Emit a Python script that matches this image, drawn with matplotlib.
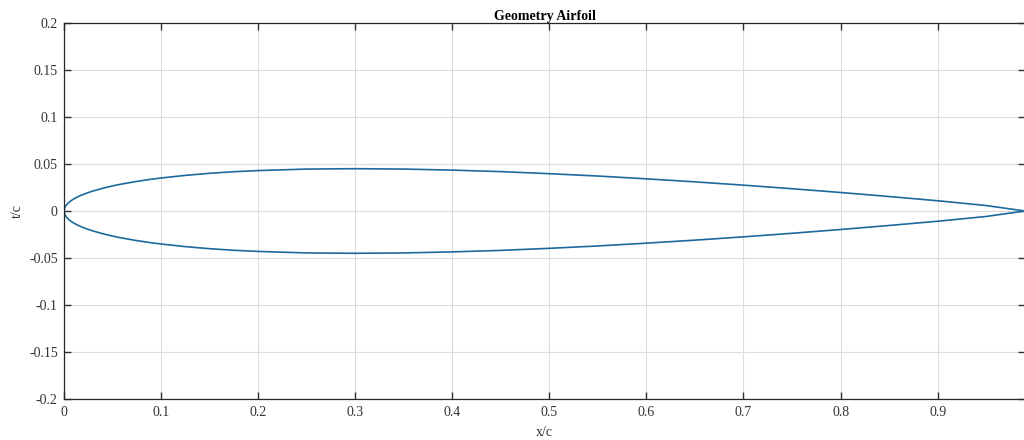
import numpy as np
import matplotlib
matplotlib.use('Agg')
import matplotlib.pyplot as plt

# airfoil half thickness (symmetric section)
x_c = [0.0, 0.001, 0.0025, 0.005, 0.0075, 0.01, 0.0125, 0.015, 0.02, 0.025,
       0.03, 0.04, 0.05, 0.06, 0.075, 0.09, 0.1, 0.125, 0.15, 0.175, 0.2,
       0.25, 0.3, 0.35, 0.4, 0.45, 0.5, 0.55, 0.6, 0.65, 0.7, 0.75, 0.8,
       0.85, 0.9, 0.95, 0.99]
t_upper = [0.0, 0.0042, 0.0065, 0.0092, 0.0111, 0.0128, 0.0142, 0.0155, 0.0177, 0.0196,
           0.0213, 0.0242, 0.0267, 0.0288, 0.0315, 0.0338, 0.0351, 0.0379, 0.0401, 0.0418, 0.0430,
           0.0446, 0.0450, 0.0446, 0.0435, 0.0419, 0.0397, 0.0372, 0.0342, 0.0310, 0.0275, 0.0237, 0.0197,
           0.0154, 0.0109, 0.0058, 0.0]
x_ticks = [0, 0.1, 0.2, 0.3, 0.4, 0.5, 0.6, 0.7, 0.8, 0.9]
y_ticks = [-0.2, -0.15, -0.1, -0.05, 0, 0.05, 0.1, 0.15, 0.2]

plt.rcParams['font.family'] = ['Liberation Serif', 'DejaVu Serif']

# go round the section: upper from TE to LE, then lower back to TE
xs = np.concatenate([x_c[::-1], x_c[1:]])
ys = np.concatenate([t_upper[::-1], -np.array(t_upper[1:])])

fig = plt.figure(figsize=(10.24, 4.4), dpi=100)
ax = fig.add_axes([64 / 1024, 1 - 399 / 440, 961 / 1024, 376 / 440])
ax.plot(xs, ys, color='#1b6a9c', linewidth=1.2, solid_joinstyle='round')

ax.set_xlim(0, 0.99)
ax.set_ylim(-0.2, 0.2)
ax.set_xticks(x_ticks)
ax.set_yticks(y_ticks)
ax.set_xticklabels(['0', '0.1', '0.2', '0.3', '0.4', '0.5', '0.6', '0.7', '0.8', '0.9'])
ax.set_yticklabels(['-0.2', '-0.15', '-0.1', '-0.05', '0', '0.05', '0.1', '0.15', '0.2'])
ax.grid(True, color='#dcdcdc', linewidth=0.8)
ax.tick_params(direction='in', length=5, width=1, top=True, right=True,
               labelsize=10, colors='#333333')
ax.tick_params(axis='y', pad=4.5)
ax.tick_params(axis='x', pad=5)
for s in ax.spines.values():
    s.set_color('#262626')
    s.set_linewidth(0.9)

ax.set_title('Geometry Airfoil', fontsize=10, fontweight='bold', pad=2)
ax.set_xlabel('x/c', fontsize=10, labelpad=5, color='#333333')
ax.set_ylabel('t/c', fontsize=10, labelpad=4, color='#333333')

fig.savefig('out.png', dpi=100)
